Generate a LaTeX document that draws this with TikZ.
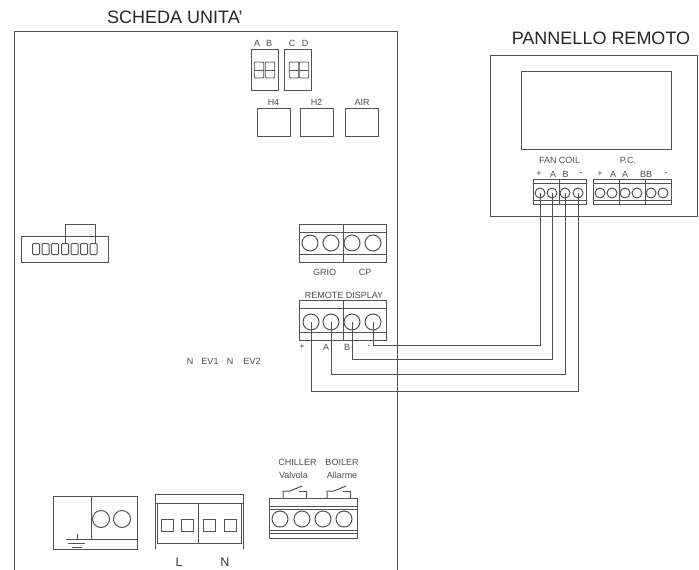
\documentclass[tikz,border=0pt]{standalone}
\usepackage{fontspec}
\setmainfont{Liberation Sans}
\providecommand{\termblock}[6]{%
  \draw[line] (#1,#3) rectangle (#2,#4);
  \draw[line] (#1,#5) -- (#2,#5);
  \draw[line] (#1,#6) -- (#2,#6);
}
\tikzset{
  line/.style={draw=black!68,line width=1pt},
  wire/.style={draw=black!68,line width=1pt,line join=miter},
  screw/.style={circle,draw=black!68,line width=1pt,inner sep=0pt,minimum size=#1},
  screw/.default=16pt,
  pad/.style={rectangle,draw=black!68,line width=1pt,inner sep=0pt,minimum size=12pt},
  pin/.style={rectangle,rounded corners=1pt,draw=black!68,line width=1pt,inner sep=0pt,minimum width=7pt,minimum height=11pt},
  dip/.style={rectangle,rounded corners=1pt,draw=black!68,line width=0.9pt,inner sep=0pt,minimum width=9.5pt,minimum height=16pt},
  relaybox/.style={rectangle,draw=black!68,line width=1pt,inner sep=0pt,minimum width=33pt,minimum height=28pt},
  title/.style={inner sep=0pt,text=black!85,font=\fontsize{18}{20}\selectfont},
  tag/.style={inner sep=0pt,text=black!70,font=\fontsize{9}{10}\selectfont},
  big/.style={inner sep=0pt,text=black!80,font=\fontsize{12.5}{14}\selectfont},
}
\begin{document}
\begin{tikzpicture}[x=1pt,y=-1pt]
  \useasboundingbox (0,0) rectangle (699,570);
  \node[title,anchor=west] (board title) at (107,17) {SCHEDA UNITA'};
  \node[title] (panel title) at (601,38) {PANNELLO REMOTO};
  \draw[line] (14,570) -- (14,31) -- (397,31) -- (397,570);
  \draw[line] (490,55) rectangle (697,216);
  \draw[line] (521,71) rectangle (671,149);

  \foreach \n/\t/\x in {a/A/257,b/B/269,c/C/292,d/D/305}
    \node[tag] (dip label \n) at (\x,43) {\t};
  \draw[line] (251,49) rectangle (278,90);
  \draw[line] (284,49) rectangle (311,90);
  \foreach \n/\x in {a/259,b/270,c/294,d/304}{
    \node[dip] (dip \n) at (\x,70) {};
    \draw[line,line width=0.7pt] (dip \n.west) -- (dip \n.east);
  }
  \node[relaybox] (h4 box) at (273.5,122) {};
  \node[relaybox] (h2 box) at (316.5,122) {};
  \node[relaybox] (air box) at (362,122) {};
  \node[tag] (h4 tag) at (h4 box |- 0,102) {H4};
  \node[tag] (h2 tag) at (h2 box |- 0,102) {H2};
  \node[tag] (air tag) at (air box |- 0,102) {AIR};

  \draw[line] (21,236) rectangle (108,262);
  \draw[line] (65,243) -- (65,224) -- (95,224) -- (95,243);
  \foreach \i/\x in {1/36,2/45.5,3/55,4/65,5/74.5,6/84,7/93.5}
    \node[pin] (pin\i) at (\x,249) {};

  \termblock{299}{386}{224}{262}{232}{254}
  \draw[line] (343,224) -- (343,262);
  \foreach \i/\x in {1/310,2/331,3/352,4/373}
    \node[screw] (grio\i) at (\x,243) {};
  \node[tag] (grio tag) at (324.5,272) {GRIO};
  \node[tag] (cp tag) at (365,272) {CP};

  \termblock{299}{386}{300}{340}{308}{332}
  \draw[line] (343,300) -- (343,340);
  \foreach \i/\x in {1/311,2/331,3/352,4/373}
    \node[screw] (rd\i) at (\x,322) {};
  \node[tag] (rd tag) at (344,295) {REMOTE DISPLAY};
  \foreach \n/\t/\x in {1/+/302,2/A/326,3/B/347,4/-/369}
    \node[tag] (rd label\n) at (\x,347) {\t};

  \termblock{533}{586}{179}{204}{183}{200}
  \draw[line] (559,179) -- (559,204);
  \foreach \i/\x in {1/540,2/552,3/565,4/578}
    \node[screw=10pt] (fc\i) at (\x,193) {};
  \node[tag] (fc tag) at (559.5,160) {FAN COIL};
  \foreach \n/\t/\x in {1/+/539,2/A/553,3/B/565.5,4/-/581}
    \node[tag] (fc label\n) at (\x,174) {\t};

  \termblock{593}{671}{179}{204}{183}{200}
  \draw[line] (619,179) -- (619,204);
  \draw[line] (645,179) -- (645,204);
  \foreach \i/\x in {1/600,2/612,3/625,4/637,5/651,6/663}
    \node[screw=10pt] (pc\i) at (\x,193) {};
  \node[tag] (pc tag) at (628,160) {P.C.};
  \foreach \n/\t/\x in {1/+/600,2/A/613,3/A/625,4/BB/646,5/-/666}
    \node[tag] (pc label\n) at (\x,174) {\t};

  \foreach \n/\t/\x in {1/N/190,2/EV1/210,3/N/230,4/EV2/252}
    \node[tag] (ev tag\n) at (\x,361) {\t};

  \path[wire]
    (rd4.center) -- ++(0,23) -| (fc1.center)
    (rd3.center) -- ++(0,37) -| (fc2.center)
    (rd2.center) -- ++(0,52) -| (fc3.center)
    (rd1.center) -- ++(0,69) -| (fc4.center);

  \draw[line] (53,496) rectangle (137,549);
  \draw[line] (91,496) -- (91,539) -- (137,539);
  \node[screw=17pt] (earth1) at (101,519) {};
  \node[screw=17pt] (earth2) at (122,519) {};
  \draw[line] (66,539) -- (91,539);
  \draw[line] (68,543) -- (85,543);
  \draw[line] (72,547) -- (82,547);
  \draw[line] (77,539) -- (77,534);

  \draw[line] (155,549) -- (155,494) -- (243,494) -- (243,549);
  \draw[line] (155,503) -- (243,503);
  \draw[line] (157,503) -- (157,543) -- (241,543) -- (241,503);
  \draw[line] (198,503) -- (198,543);
  \foreach \i/\x in {1/167,2/187,3/209,4/230}
    \node[pad] (power\i) at (\x,525) {};
  \node[big] (l tag) at (179,562) {L};
  \node[big] (n tag) at (225,562) {N};

  \termblock{269}{357}{498}{538}{506}{509}
  \draw[line] (269,530) -- (357,530);
  \draw[line] (269,533) -- (357,533);
  \foreach \i/\x in {1/280,2/302,3/323,4/344}
    \node[screw] (relay\i) at (\x,519) {};
  \draw[line] (283,498) -- (283,491) -- (290,491) -- (302,486);
  \draw[line] (299,491) -- (306,491) -- (306,498);
  \draw[line] (327,498) -- (327,491) -- (334,491) -- (346,486);
  \draw[line] (343,491) -- (350,491) -- (350,498);
  \node[tag] (chiller tag) at (297.5,462) {CHILLER};
  \node[tag] (valvola tag) at (293.5,475) {Valvola};
  \node[tag] (boiler tag) at (342,462) {BOILER};
  \node[tag] (alarme tag) at (342,475) {Allarme};
\end{tikzpicture}
\end{document}
